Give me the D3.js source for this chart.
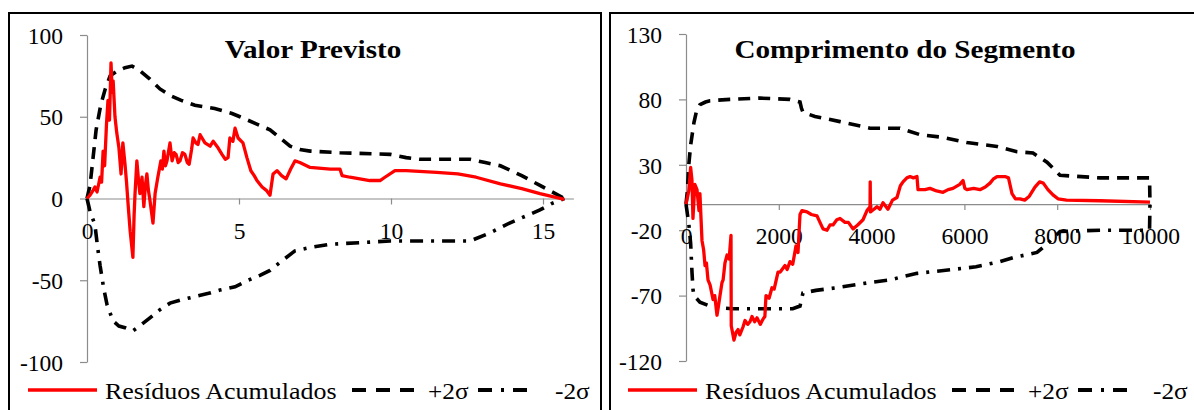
<!DOCTYPE html>
<html><head><meta charset="utf-8">
<script src="https://cdn.jsdelivr.net/npm/d3@7"></script>
<style>
html,body{margin:0;padding:0;background:#fff;}
svg{display:block;}
text{font-family:"Liberation Serif","Times New Roman",serif;fill:#000;}
</style></head>
<body>
<svg id="c" width="1194" height="410"></svg>
<script>
// ---------- DATA ----------
// Panel 1: Valor Previsto
const valorTitle = "Valor Previsto";
const valorXTicks = [0, 5, 10, 15];
const valorYTicks = [-100, -50, 0, 50, 100];
const valorResX = [0,0.1,0.2,0.26,0.33,0.43,0.48,0.53,0.58,0.64,0.69,0.74,0.79,0.83,0.86,0.92,0.98,1.05,1.12,1.18,1.25,1.3,1.35,1.42,1.51,1.55,1.58,1.64,1.7,1.74,1.81,1.87,1.92,1.97,2.02,2.07,2.12,2.17,2.24,2.33,2.43,2.48,2.53,2.58,2.63,2.73,2.8,2.87,2.93,3.0,3.06,3.14,3.22,3.3,3.36,3.44,3.49,3.58,3.65,3.72,3.88,4.05,4.15,4.31,4.44,4.55,4.64,4.7,4.8,4.87,4.97,5.13,5.26,5.39,5.5,5.59,5.76,5.9,6.02,6.12,6.25,6.4,6.55,6.7,6.84,7.0,7.34,8.0,8.32,8.39,8.65,9.3,9.64,9.8,10.13,10.5,11.5,12.2,12.8,13.6,14.3,14.9,15.7];
const valorRes  = [0,2,5,7,4,13,10,29,20,45,60,48,83,65,72,50,40,31,15,34,21,10,-3,-20,-36,-10,3,23,10,3,13,-5,8,15,5,-1,-8,-15,3,13,23,18,29,20,23,34,23,28,27,22,23,28,27,22,21,30,37,34,33,39,34,32,35,31,27,24,25,37,35,43,37,34,25,17,14,11,7,5,2,15,17,14,12,18,23,22,19,18,18,14,13,11,11,13,17,17,16,15,13,9,6,3,-0.5];
const valorUpX = [0,0.1,0.2,0.3,0.45,0.6,0.76,1.0,1.25,1.48,1.75,2.07,2.4,2.73,3.1,3.55,4.2,4.77,5.03,5.53,6.02,6.35,6.68,7.0,7.34,8.32,9.97,10.5,10.95,12.6,13.1,13.6,14.3,14.9,15.3,15.7];
const valorUp  = [0,8,25,42,57,67,75,78,80,81,78,73,67,63,60,57,55,52,50,46,42,37,32,30,29,28,27,25,24,24,22,20,14,8,4,0];
const valorLowX = [0,0.1,0.26,0.35,0.43,0.55,0.66,0.86,1.05,1.25,1.51,1.8,2.07,2.4,2.73,3.1,3.55,4.0,4.37,4.87,5.3,5.69,6.02,6.35,6.84,7.34,7.99,9.97,12.6,13.26,13.9,14.4,14.9,15.3,15.7];
const valorLow  = [0,-8,-16,-30,-41,-55,-65,-75,-78,-79,-81,-77,-73,-68,-64,-62,-60,-58,-56,-54,-50,-47,-44,-39,-32,-30,-28,-26,-26,-21,-15,-11,-7,-3,0];

// Panel 2: Comprimento do Segmento
const compTitle = "Comprimento do Segmento";
const compXTicks = [0, 2000, 4000, 6000, 8000, 10000];
const compYTicks = [-120, -70, -20, 30, 80, 130];
const compResX = [0,60,100,129,150,190,237,280,300,345,380,410,440,474,520,582,620,668,700,733,776,800,840,884,930,970,975,1034,1080,1121,1160,1228,1272,1330,1379,1422,1480,1530,1600,1659,1700,1724,1790,1853,1900,1983,2030,2134,2180,2241,2300,2371,2414,2457,2500,2608,2700,2823,2900,2953,3039,3103,3168,3250,3319,3427,3500,3599,3700,3815,3900,3966,3970,3975,4050,4116,4180,4246,4353,4450,4547,4620,4677,4760,4828,4900,4978,5000,5150,5259,5400,5539,5650,5754,5900,5970,6010,6056,6200,6336,6450,6552,6620,6703,6800,6875,6950,7026,7100,7198,7300,7400,7520,7620,7700,7800,7909,8017,8200,8922,10000];
const compRes  = [0,10,28,18,-11,15,11,-5,8,-28,-35,-47,-45,-58,-62,-73,-70,-85,-78,-70,-60,-58,-45,-39,-42,-24,-93,-104,-98,-96,-100,-94,-89,-92,-90,-86,-90,-87,-92,-88,-86,-70,-72,-64,-65,-52,-52,-47,-50,-44,-46,-32,-37,-8,-5,-6,-8,-9,-15,-19,-20,-16,-16,-12,-11,-14,-14,-19,-16,-12,-5,-2,17,-6,-4,-2,-4,1,-4,3,5,14,17,20,21,20,21,11,11,12,10,9,11,12,15,18,12,11,12,11,13,16,19,21,21,21,20,8,4,4,3,6,13,17,16,11,7,4,3,2.5,1.5];
const compUpX = [0,30,60,100,129,170,220,302,420,517,948,1595,2241,2457,2490,2522,2780,3319,3966,4612,5043,5539,6056,6703,7134,7478,7780,8060,8922,9990,10000];
const compUp  = [0,10,30,45,52,62,70,76,78,79,80,81,80,78,73,70,67,63,58,58,53,51,47,44,40,39,32,22,20,20,0];
const compLowX = [0,60,100,129,150,170,300,580,1000,1950,2300,2457,2520,2800,3250,3966,4400,4612,4980,5754,6250,6767,7047,7565,7800,8060,8922,9990,10000];
const compLow  = [0,-15,-30,-52,-65,-70,-75,-79,-80,-80,-80,-78,-68,-66,-64,-60,-58,-56,-53,-50,-48,-44,-41,-37,-30,-21,-20,-20,0];

const legendLabels = ["Resíduos Acumulados", "+2σ", "-2σ"];

// ---------- DRAW ----------
const svg = d3.select("#c");
const RED = "#ff0000";
const AX = "#8c8c8c";
const DASH = "12,8";
const DASHDOT = "13,8,3,8";
const fmt = d => String(d);

function zip(xs, ys){ return xs.map((x,i)=>[x, ys[i]]); }

function panel(o){
  const g = svg.append("g");
  g.append("rect").attr("x",o.frame[0]).attr("y",o.frame[1]).attr("width",o.frame[2]).attr("height",o.frame[3])
    .attr("fill","none").attr("stroke","#000").attr("stroke-width",2);

  const x = d3.scaleLinear().domain(o.xDom).range(o.xRange);
  const y = d3.scaleLinear().domain(o.yDom).range(o.yRange);

  const ya = g.append("g").attr("transform",`translate(${x(0)},0)`)
    .call(d3.axisLeft(y).tickValues(o.yTicks).tickSize(7).tickSizeOuter(0).tickFormat(fmt));
  ya.select(".domain").attr("stroke",AX).attr("stroke-width",1.2);
  ya.selectAll(".tick line").attr("stroke",AX).attr("stroke-width",1.2);
  ya.selectAll(".tick text").attr("x",-24).attr("dy","0.35em")
    .style("font-size","23.5px").style("font-family",'"Liberation Serif",serif').attr("fill","#000");

  const xa = g.append("g").attr("transform",`translate(0,${y(0)})`)
    .call(d3.axisBottom(x).tickValues(o.xTicks).tickSize(6).tickSizeOuter(0).tickFormat(fmt));
  xa.select(".domain").attr("stroke",AX).attr("stroke-width",1.2);
  xa.selectAll(".tick line").attr("stroke",AX).attr("stroke-width",1.2);
  xa.selectAll(".tick text").attr("y",40).attr("dy",0)
    .style("font-size","23.5px").style("font-family",'"Liberation Serif",serif').attr("fill","#000");

  const line = d3.line().x(d=>x(d[0])).y(d=>y(d[1]));

  g.append("path").datum(zip(o.upX,o.up)).attr("d",line).attr("fill","none")
    .attr("stroke","#000").attr("stroke-width",3.6).attr("stroke-dasharray",DASH);
  g.append("path").datum(zip(o.lowX,o.low)).attr("d",line).attr("fill","none")
    .attr("stroke","#000").attr("stroke-width",3.6).attr("stroke-dasharray",DASHDOT);
  g.append("path").datum(zip(o.resX,o.res)).attr("d",line).attr("fill","none")
    .attr("stroke",RED).attr("stroke-width",3.3).attr("stroke-linejoin","round");

  g.append("text").attr("x",o.titleX).attr("y",58).attr("text-anchor","middle")
    .style("font-size","26px").style("font-weight","bold")
    .attr("transform",`translate(${o.titleX},0) scale(1.12,1) translate(${-o.titleX},0)`)
    .text(o.title);

  const ly = 390, lx = o.legendX;
  const lg = g.append("g").attr("transform",`translate(${lx},0)`);
  lg.append("line").attr("x1",0).attr("x2",69).attr("y1",ly).attr("y2",ly).attr("stroke",RED).attr("stroke-width",3.5);
  lg.append("text").attr("x",77).attr("y",ly+9).style("font-size","23px")
    .attr("transform","translate(77,0) scale(1.13,1) translate(-77,0)").text(legendLabels[0]);
  lg.append("line").attr("x1",324).attr("x2",392).attr("y1",ly).attr("y2",ly).attr("stroke","#000").attr("stroke-width",4).attr("stroke-dasharray","14,10");
  lg.append("text").attr("x",400).attr("y",ly+9).style("font-size","23px")
    .attr("transform","translate(400,0) scale(1.1,1) translate(-400,0)").text(legendLabels[1]);
  lg.append("line").attr("x1",450).attr("x2",503).attr("y1",ly).attr("y2",ly).attr("stroke","#000").attr("stroke-width",4).attr("stroke-dasharray","14,9,3,9");
  lg.append("text").attr("x",o.minusX).attr("y",ly+9).style("font-size","23px")
    .attr("transform",`translate(${o.minusX},0) scale(1.1,1) translate(${-o.minusX},0)`).text(legendLabels[2]);
}

panel({
  frame:[9,13,592,420],
  xDom:[0,16], xRange:[87, 573.4],
  yDom:[-100,100], yRange:[362,35],
  xTicks:valorXTicks, yTicks:valorYTicks,
  resX:valorResX, res:valorRes, upX:valorUpX, up:valorUp, lowX:valorLowX, low:valorLow,
  title:valorTitle, titleX:313, legendX:28, minusX:527
});
panel({
  frame:[610,13,600,420],
  xDom:[0,10000], xRange:[686,1150],
  yDom:[-120,130], yRange:[361,34],
  xTicks:compXTicks, yTicks:compYTicks,
  resX:compResX, res:compRes, upX:compUpX, up:compUp, lowX:compLowX, low:compLow,
  title:compTitle, titleX:905, legendX:628, minusX:525
});
</script>
</body></html>
